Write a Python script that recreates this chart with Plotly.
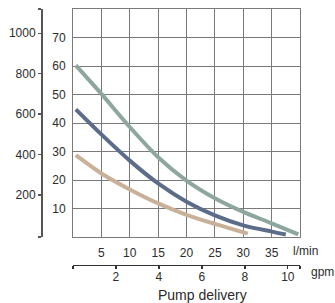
import plotly.graph_objects as go

# Data: pressure (bar) vs pump delivery (l/min)
green_x = [0.5, 5, 10, 15, 20, 25, 30, 35, 39.7]
green_y = [60.2, 50.2, 38.6, 28.0, 19.8, 13.6, 8.8, 4.8, 0.9]
blue_x = [0.5, 5, 10, 15, 20, 25, 30, 35, 37.5]
blue_y = [44.8, 36.0, 26.8, 18.8, 12.4, 7.6, 4.1, 1.9, 0.9]
tan_x = [0.5, 5, 10, 15, 20, 25, 30.8]
tan_y = [28.7, 22.3, 16.7, 11.8, 7.8, 4.6, 1.2]

lmin_ticks = [5, 10, 15, 20, 25, 30, 35]
bar_ticks = [10, 20, 30, 40, 50, 60, 70]
psi_ticks = [200, 400, 600, 800, 1000]
gpm_ticks = [2, 4, 6, 8, 10]

X_MAX = 40
Y_MAX = 80
PSI_RANGE = [-8, 1120]
GPM_MAX = X_MAX / 3.785411784

FONT = "Liberation Sans, Arial, Helvetica, sans-serif"
GRID = "#7a7a7a"
TXT = "#2b2b2b"

fig = go.Figure()
for xs, ys, col in [(tan_x, tan_y, "#c9b199"),
                    (blue_x, blue_y, "#5b6d8a"),
                    (green_x, green_y, "#8da79f")]:
    fig.add_trace(go.Scatter(x=xs, y=ys, mode="lines",
                             line=dict(color=col, width=4, shape="spline", smoothing=0.8),
                             hoverinfo="skip", showlegend=False))

# invisible traces to activate secondary axes
fig.add_trace(go.Scatter(x=[None], y=[None], xaxis="x2", yaxis="y", showlegend=False))
fig.add_trace(go.Scatter(x=[None], y=[None], xaxis="x", yaxis="y2", showlegend=False))

W, H = 335, 303
ml, mr, mt, mb = 42, 35, 9, 38
pw = W - ml - mr
ph = H - mt - mb
xdom = [31 / pw, 1]
ydom = [28 / ph, 1]

fig.update_layout(
    width=W, height=H,
    margin=dict(l=ml, r=mr, t=mt, b=mb, pad=0, autoexpand=False),
    paper_bgcolor="white", plot_bgcolor="white",
    font=dict(family=FONT, size=12, color=TXT),
    xaxis=dict(domain=xdom, range=[0, X_MAX], tickvals=lmin_ticks,
               showgrid=True, gridcolor=GRID, gridwidth=1,
               showline=True, mirror=True, linecolor=GRID, linewidth=1,
               ticks="", zeroline=False, ticklabelstandoff=5, automargin=False,
               tickfont=dict(size=12, color=TXT), anchor="y"),
    yaxis=dict(domain=ydom, range=[0, Y_MAX], tickvals=bar_ticks,
               showgrid=True, gridcolor=GRID, gridwidth=1,
               showline=True, mirror=True, linecolor=GRID, linewidth=1,
               ticks="", zeroline=False, ticklabelstandoff=4, automargin=False,
               tickfont=dict(size=12, color=TXT), anchor="x"),
    yaxis2=dict(overlaying="y", anchor="free", position=0, side="left",
                range=PSI_RANGE, automargin=False,
                tickvals=[PSI_RANGE[0]] + psi_ticks + [PSI_RANGE[1]],
                ticktext=[""] + [str(v) for v in psi_ticks] + [""],
                showgrid=False, zeroline=False,
                showline=True, linecolor="#555555", linewidth=2,
                ticks="outside", ticklen=3, tickwidth=1.5, tickcolor="#555555",
                tickfont=dict(size=12, color=TXT)),
    xaxis2=dict(overlaying="x", anchor="free", position=0, side="bottom",
                domain=xdom, range=[0, GPM_MAX], automargin=False,
                tickvals=[0] + gpm_ticks + [GPM_MAX],
                ticktext=[""] + [str(v) for v in gpm_ticks] + [""],
                showgrid=False, zeroline=False,
                showline=True, linecolor="#333333", linewidth=1.3,
                ticks="outside", ticklen=3, tickwidth=1.3, tickcolor="#333333",
                ticklabelstandoff=-3,
                tickfont=dict(size=12, color=TXT)),
    annotations=[
        dict(text="l/min", xref="paper", yref="paper",
             x=(305 - ml) / pw, y=(H - mb - 250.5) / ph,
             showarrow=False, xanchor="center", yanchor="middle",
             font=dict(size=12, color=TXT)),
        dict(text="gpm", xref="paper", yref="paper",
             x=(322 - ml) / pw, y=(H - mb - 272) / ph,
             showarrow=False, xanchor="center", yanchor="middle",
             font=dict(size=12, color=TXT)),
        dict(text="Pump delivery", xref="paper", yref="paper",
             x=(202 - ml) / pw, y=(H - mb - 295) / ph,
             showarrow=False, xanchor="center", yanchor="middle",
             font=dict(size=14, color=TXT)),
    ],
)

fig.write_html(
    "out.html",
    config={"displayModeBar": False, "staticPlot": True},
    post_script="document.body.style.margin='0';document.body.style.padding='0';"
                "document.body.style.overflow='hidden';",
)
